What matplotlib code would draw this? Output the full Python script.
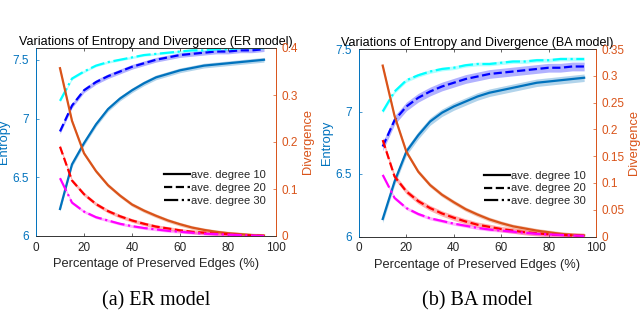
import matplotlib
matplotlib.use('Agg')
from matplotlib import pyplot as plt

# percentage of preserved edges
pct = [10, 15, 20, 25, 30, 35, 40, 45, 50, 55, 60, 65, 70, 75, 80, 85, 90, 95]

# ER model - entropy (left axis)
er_ent_10 = [6.23, 6.61, 6.79, 6.95, 7.08, 7.17, 7.24, 7.30, 7.35, 7.38, 7.41, 7.43, 7.45, 7.46, 7.47, 7.48, 7.49, 7.50]
er_ent_20 = [6.89, 7.11, 7.24, 7.31, 7.36, 7.40, 7.44, 7.47, 7.50, 7.52, 7.54, 7.55, 7.56, 7.57, 7.57, 7.58, 7.58, 7.59]
er_ent_30 = [7.15, 7.34, 7.40, 7.45, 7.48, 7.50, 7.52, 7.54, 7.55, 7.56, 7.57, 7.58, 7.58, 7.59, 7.59, 7.60, 7.60, 7.60]
# ER model - divergence (right axis)
er_div_10 = [0.357, 0.245, 0.176, 0.138, 0.108, 0.086, 0.067, 0.054, 0.043, 0.033, 0.025, 0.018, 0.013, 0.009, 0.006, 0.004, 0.002, 0.001]
er_div_20 = [0.190, 0.118, 0.089, 0.068, 0.053, 0.042, 0.033, 0.026, 0.020, 0.016, 0.012, 0.009, 0.007, 0.005, 0.004, 0.002, 0.001, 0.000]
er_div_30 = [0.123, 0.071, 0.052, 0.040, 0.033, 0.026, 0.021, 0.017, 0.014, 0.011, 0.009, 0.007, 0.005, 0.004, 0.003, 0.002, 0.001, 0.000]

# BA model - entropy (left axis)
ba_ent_10 = [6.14, 6.44, 6.68, 6.81, 6.92, 6.99, 7.04, 7.08, 7.12, 7.15, 7.17, 7.19, 7.21, 7.23, 7.24, 7.25, 7.26, 7.27]
ba_ent_20 = [6.72, 6.93, 7.04, 7.11, 7.16, 7.20, 7.23, 7.26, 7.28, 7.30, 7.31, 7.32, 7.33, 7.34, 7.35, 7.35, 7.36, 7.36]
ba_ent_30 = [7.00, 7.16, 7.25, 7.29, 7.32, 7.34, 7.35, 7.37, 7.38, 7.38, 7.39, 7.40, 7.40, 7.41, 7.41, 7.42, 7.42, 7.42]
# BA model - divergence (right axis)
ba_div_10 = [0.319, 0.225, 0.158, 0.121, 0.096, 0.078, 0.064, 0.051, 0.041, 0.032, 0.025, 0.019, 0.015, 0.011, 0.008, 0.005, 0.003, 0.002]
ba_div_20 = [0.180, 0.112, 0.084, 0.066, 0.053, 0.043, 0.035, 0.028, 0.022, 0.018, 0.014, 0.011, 0.008, 0.006, 0.004, 0.003, 0.002, 0.001]
ba_div_30 = [0.115, 0.072, 0.053, 0.042, 0.034, 0.029, 0.024, 0.020, 0.016, 0.013, 0.011, 0.009, 0.007, 0.005, 0.004, 0.003, 0.002, 0.001]

# half width of the shaded bands (degree 10, 20, 30)
er_ent_band = [0.02, 0.02, 0.01]
er_div_band = [0.004, 0.004, 0.003]
ba_ent_band = [0.03, 0.035, 0.015]
ba_div_band = [0.004, 0.005, 0.003]

legend_labels = ['ave. degree 10', 'ave. degree 20', 'ave. degree 30']

BLUE = '#0072BD'
ORANGE = '#D95319'
GRAY = '#262626'

plt.rcParams['font.family'] = ['Liberation Sans', 'DejaVu Sans']


def band_line(ax, x, y, half, color, ls):
    lo = [v - half for v in y]
    hi = [v + half for v in y]
    ax.fill_between(x, lo, hi, color=color, alpha=0.3, linewidth=0)
    line, = ax.plot(x, y, color=color, linestyle=ls, linewidth=1.6)
    return line


def draw_panel(ax, title, ent, div, ent_band, div_band, ylim, yticks, dlim, dticks, dlabels, caption):
    ax2 = ax.twinx()
    styles = ['-', '--', '-.']
    ent_colors = [BLUE, '#0000FF', '#00FFFF']
    div_colors = [ORANGE, '#FF0000', '#FF00FF']
    for i in range(3):
        band_line(ax, pct, ent[i], ent_band[i], ent_colors[i], styles[i])
        band_line(ax2, pct, div[i], div_band[i], div_colors[i], styles[i])

    ax.set_xlim(0, 100)
    ax.set_xticks([0, 20, 40, 60, 80, 100])
    ax.set_ylim(*ylim)
    ax.set_yticks(yticks)
    ax.set_yticklabels([('%g' % t) for t in yticks])
    ax2.set_ylim(*dlim)
    ax2.set_yticks(dticks)
    ax2.set_yticklabels(dlabels)

    ax.tick_params(axis='x', direction='in', top=True, length=2.2, width=0.5,
                   colors=GRAY, labelsize=8.5, pad=4)
    ax.tick_params(axis='y', direction='in', length=2.2, width=0.5,
                   colors=BLUE, labelsize=8.5, pad=5)
    ax2.tick_params(axis='y', direction='in', length=2.2, width=0.5,
                    colors=ORANGE, labelsize=8.5, pad=4)
    for a in (ax, ax2):
        a.spines['top'].set_color(GRAY)
        a.spines['bottom'].set_color(GRAY)
        a.spines['top'].set_linewidth(0.5)
        a.spines['bottom'].set_linewidth(0.5)
        a.spines['left'].set_color(BLUE)
        a.spines['right'].set_color(ORANGE)
        a.spines['left'].set_linewidth(0.6)
        a.spines['right'].set_linewidth(0.6)

    ax.set_xlabel('Percentage of Preserved Edges (%)', fontsize=9.3, color=GRAY, labelpad=3.5)
    ax.set_ylabel('Entropy', fontsize=9.3, color=BLUE, labelpad=1.5)
    ax2.set_ylabel('Divergence', fontsize=9.3, color=ORANGE, labelpad=2.5)
    ax.set_title(title, fontsize=9, pad=2)

    # legend with black line samples
    handles = [plt.Line2D([], [], color='black', linestyle=s, linewidth=1.6) for s in styles]
    ax2.legend(handles, legend_labels, loc='upper right', bbox_to_anchor=(0.975, 0.375),
               frameon=False, fontsize=8, handlelength=2.3, handletextpad=0.1,
               labelspacing=0.25, borderaxespad=0, labelcolor=GRAY)

    ax.text(0.5, -0.345, caption, transform=ax.transAxes, ha='center', va='center',
            fontsize=14.5, family='Liberation Serif')


fig = plt.figure(figsize=(6.4, 3.15), dpi=100)
ax_er = fig.add_axes([36 / 640, 1 - 236 / 315, 240 / 640, 188 / 315])
ax_ba = fig.add_axes([359 / 640, 1 - 236.5 / 315, 237 / 640, 187.5 / 315])

draw_panel(ax_er, 'Variations of Entropy and Divergence (ER model)',
           [er_ent_10, er_ent_20, er_ent_30], [er_div_10, er_div_20, er_div_30],
           er_ent_band, er_div_band,
           (6, 7.6), [6, 6.5, 7, 7.5],
           (0, 0.4), [0, 0.1, 0.2, 0.3, 0.4], ['0', '0.1', '0.2', '0.3', '0.4'],
           '(a) ER model')

draw_panel(ax_ba, 'Variations of Entropy and Divergence (BA model)',
           [ba_ent_10, ba_ent_20, ba_ent_30], [ba_div_10, ba_div_20, ba_div_30],
           ba_ent_band, ba_div_band,
           (6, 7.5), [6, 6.5, 7, 7.5],
           (0, 0.35), [0, 0.05, 0.1, 0.15, 0.2, 0.25, 0.3, 0.35],
           ['0', '0.05', '0.1', '0.15', '0.2', '0.25', '0.3', '0.35'],
           '(b) BA model')

fig.savefig('out.png', dpi=100)
